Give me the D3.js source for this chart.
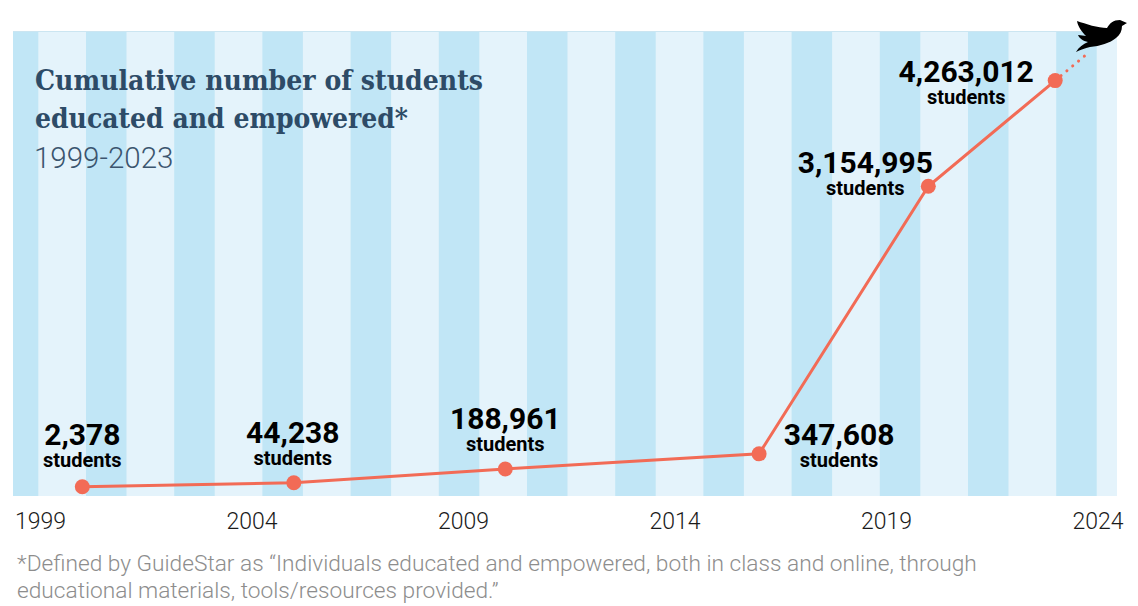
<!DOCTYPE html>
<html>
<head>
<meta charset="utf-8">
<script src="https://cdn.jsdelivr.net/npm/d3@7"></script>
<style>
  html, body { margin: 0; padding: 0; background: #fff; }
  svg { display: block; }
</style>
</head>
<body>
<div id="chart"></div>
<script>
// data
const years = [2000, 2005, 2010, 2016, 2020, 2023];
const students = [2378, 44238, 188961, 347608, 3154995, 4263012];
// the dotted hint towards the dove, in data units
const projectionYear = 2023.8;
const projectionValue = 4560000;
const tickYears = [1999, 2004, 2009, 2014, 2019, 2024];
const titleLines = ['Cumulative number of students', 'educated and empowered*'];
const subtitle = '1999-2023';
const footnoteLines = [
  '*Defined by GuideStar as \u201cIndividuals educated and empowered, both in class and online, through',
  'educational materials, tools/resources provided.\u201d'
];

// label placement relative to each point (px)
const labelOffsets = [
  { dx: 0, dy: -42 }, { dx: -1, dy: -40 }, { dx: 0, dy: -40 },
  { dx: 80, dy: -9 }, { dx: -63, dy: -13 }, { dx: -89, dy: 1 }
];

const width = 1138, height = 606;
const plot = { left: 13, right: 1117, top: 31, bottom: 496 };

const colors = {
  stripeDark: '#c1e6f6',
  stripeLight: '#e4f3fb',
  line: '#f26b56',
  title: '#2d4b67',
  footnote: '#8d8d8d'
};

const svg = d3.select('#chart').append('svg')
  .attr('width', width)
  .attr('height', height);

// scales
const x = d3.scaleLinear().domain([1999, 2024]).range([40, 1097.5]);
const y = d3.scaleLinear().domain([0, 4500000]).range([487, 58]);

// background stripes
svg.append('defs').append('clipPath').attr('id', 'plot-clip')
  .append('rect')
  .attr('x', plot.left).attr('y', plot.top)
  .attr('width', plot.right - plot.left)
  .attr('height', plot.bottom - plot.top);

const bg = svg.append('g').attr('clip-path', 'url(#plot-clip)');
bg.append('rect')
  .attr('x', plot.left).attr('y', plot.top)
  .attr('width', plot.right - plot.left)
  .attr('height', plot.bottom - plot.top)
  .attr('fill', colors.stripeLight);

const stripeX = d3.scaleLinear().domain([0, 1]).range([86, 174.2]);
bg.selectAll('.stripe')
  .data(d3.range(-1, 13))
  .enter()
  .append('rect')
  .attr('class', 'stripe')
  .attr('x', k => stripeX(k))
  .attr('y', plot.top)
  .attr('width', 40.5)
  .attr('height', plot.bottom - plot.top)
  .attr('fill', colors.stripeDark);

svg.append('line')
  .attr('x1', plot.left).attr('x2', plot.right)
  .attr('y1', plot.top + 0.5).attr('y2', plot.top + 0.5)
  .attr('stroke', '#cbe5f1')
  .attr('stroke-width', 1);

// title
const title = svg.append('text')
  .attr('x', 35)
  .attr('y', 90)
  .style('font-family', '"DejaVu Serif", serif')
  .style('font-weight', 'bold')
  .style('font-size', '27.5px')
  .attr('fill', colors.title);
title.selectAll('tspan')
  .data(titleLines)
  .enter()
  .append('tspan')
  .attr('x', 35)
  .attr('dy', (d, i) => i === 0 ? 0 : 38)
  .attr('textLength', (d, i) => i === 0 ? 448 : 373)
  .attr('lengthAdjust', 'spacingAndGlyphs')
  .text(d => d);

svg.append('text')
  .attr('x', 34)
  .attr('y', 168)
  .style('font-family', 'Roboto, sans-serif')
  .style('font-weight', 300)
  .style('font-size', '29.5px')
  .attr('fill', '#3b556f')
  .text(subtitle);

// line + dotted projection
const points = years.map((yr, i) => ({ year: yr, value: students[i], off: labelOffsets[i] }));

const line = d3.line()
  .x(d => x(d.year))
  .y(d => y(d.value));

svg.append('path')
  .datum([points[points.length - 1], { year: projectionYear, value: projectionValue }])
  .attr('d', line)
  .attr('fill', 'none')
  .attr('stroke', colors.line)
  .attr('stroke-width', 3)
  .attr('stroke-linecap', 'round')
  .attr('stroke-dasharray', '0.1 7.5');

svg.append('path')
  .datum(points)
  .attr('d', line)
  .attr('fill', 'none')
  .attr('stroke', colors.line)
  .attr('stroke-width', 3);

svg.selectAll('.dot')
  .data(points)
  .enter()
  .append('circle')
  .attr('class', 'dot')
  .attr('cx', d => x(d.year))
  .attr('cy', d => y(d.value))
  .attr('r', 7.5)
  .attr('fill', colors.line);

// value labels
const labels = svg.selectAll('.value-label')
  .data(points)
  .enter()
  .append('g')
  .attr('class', 'value-label')
  .attr('transform', d => `translate(${x(d.year) + d.off.dx}, ${y(d.value) + d.off.dy})`);

labels.append('text')
  .attr('text-anchor', 'middle')
  .style('font-family', 'Roboto, sans-serif')
  .style('font-weight', 'bold')
  .style('font-size', '30px')
  .attr('fill', '#000')
  .text(d => d3.format(',')(d.value));

labels.append('text')
  .attr('y', 22)
  .attr('text-anchor', 'middle')
  .style('font-family', 'Roboto, sans-serif')
  .style('font-weight', 'bold')
  .style('font-size', '20px')
  .attr('fill', '#000')
  .text('students');

// x axis
const xAxis = svg.append('g')
  .attr('class', 'x-axis')
  .attr('transform', `translate(0, ${plot.bottom})`)
  .call(d3.axisBottom(x).tickValues(tickYears).tickFormat(d3.format('d')).tickSize(0).tickPadding(17));
xAxis.select('.domain').remove();
xAxis.selectAll('text')
  .style('font-family', 'Roboto, sans-serif')
  .style('font-weight', 300)
  .style('font-size', '23px')
  .attr('fill', '#1a1a1a');

// dove
svg.append('path')
  .attr('transform', 'translate(1076, 18)')
  .attr('d', 'M1,3 C10,6 22,10 31,10 C34,5 37,2 44,2 L51,5 L46,8 C46,13 44,17 40,20 C34,25 24,28 14,29 C9,30 4,32 0,34 C3,29 7,26 12,24 C7,23 3,20 2,17 C5,17 8,18 10,18 C6,14 2,9 1,3 Z')
  .attr('fill', '#000');

// footnote
svg.append('text')
  .attr('y', 571)
  .style('font-family', 'Roboto, sans-serif')
  .style('font-weight', 300)
  .style('font-size', '22.7px')
  .attr('fill', colors.footnote)
  .selectAll('tspan')
  .data(footnoteLines)
  .enter()
  .append('tspan')
  .attr('x', 17)
  .attr('dy', (d, i) => i === 0 ? 0 : 27)
  .text(d => d);
</script>
</body>
</html>
